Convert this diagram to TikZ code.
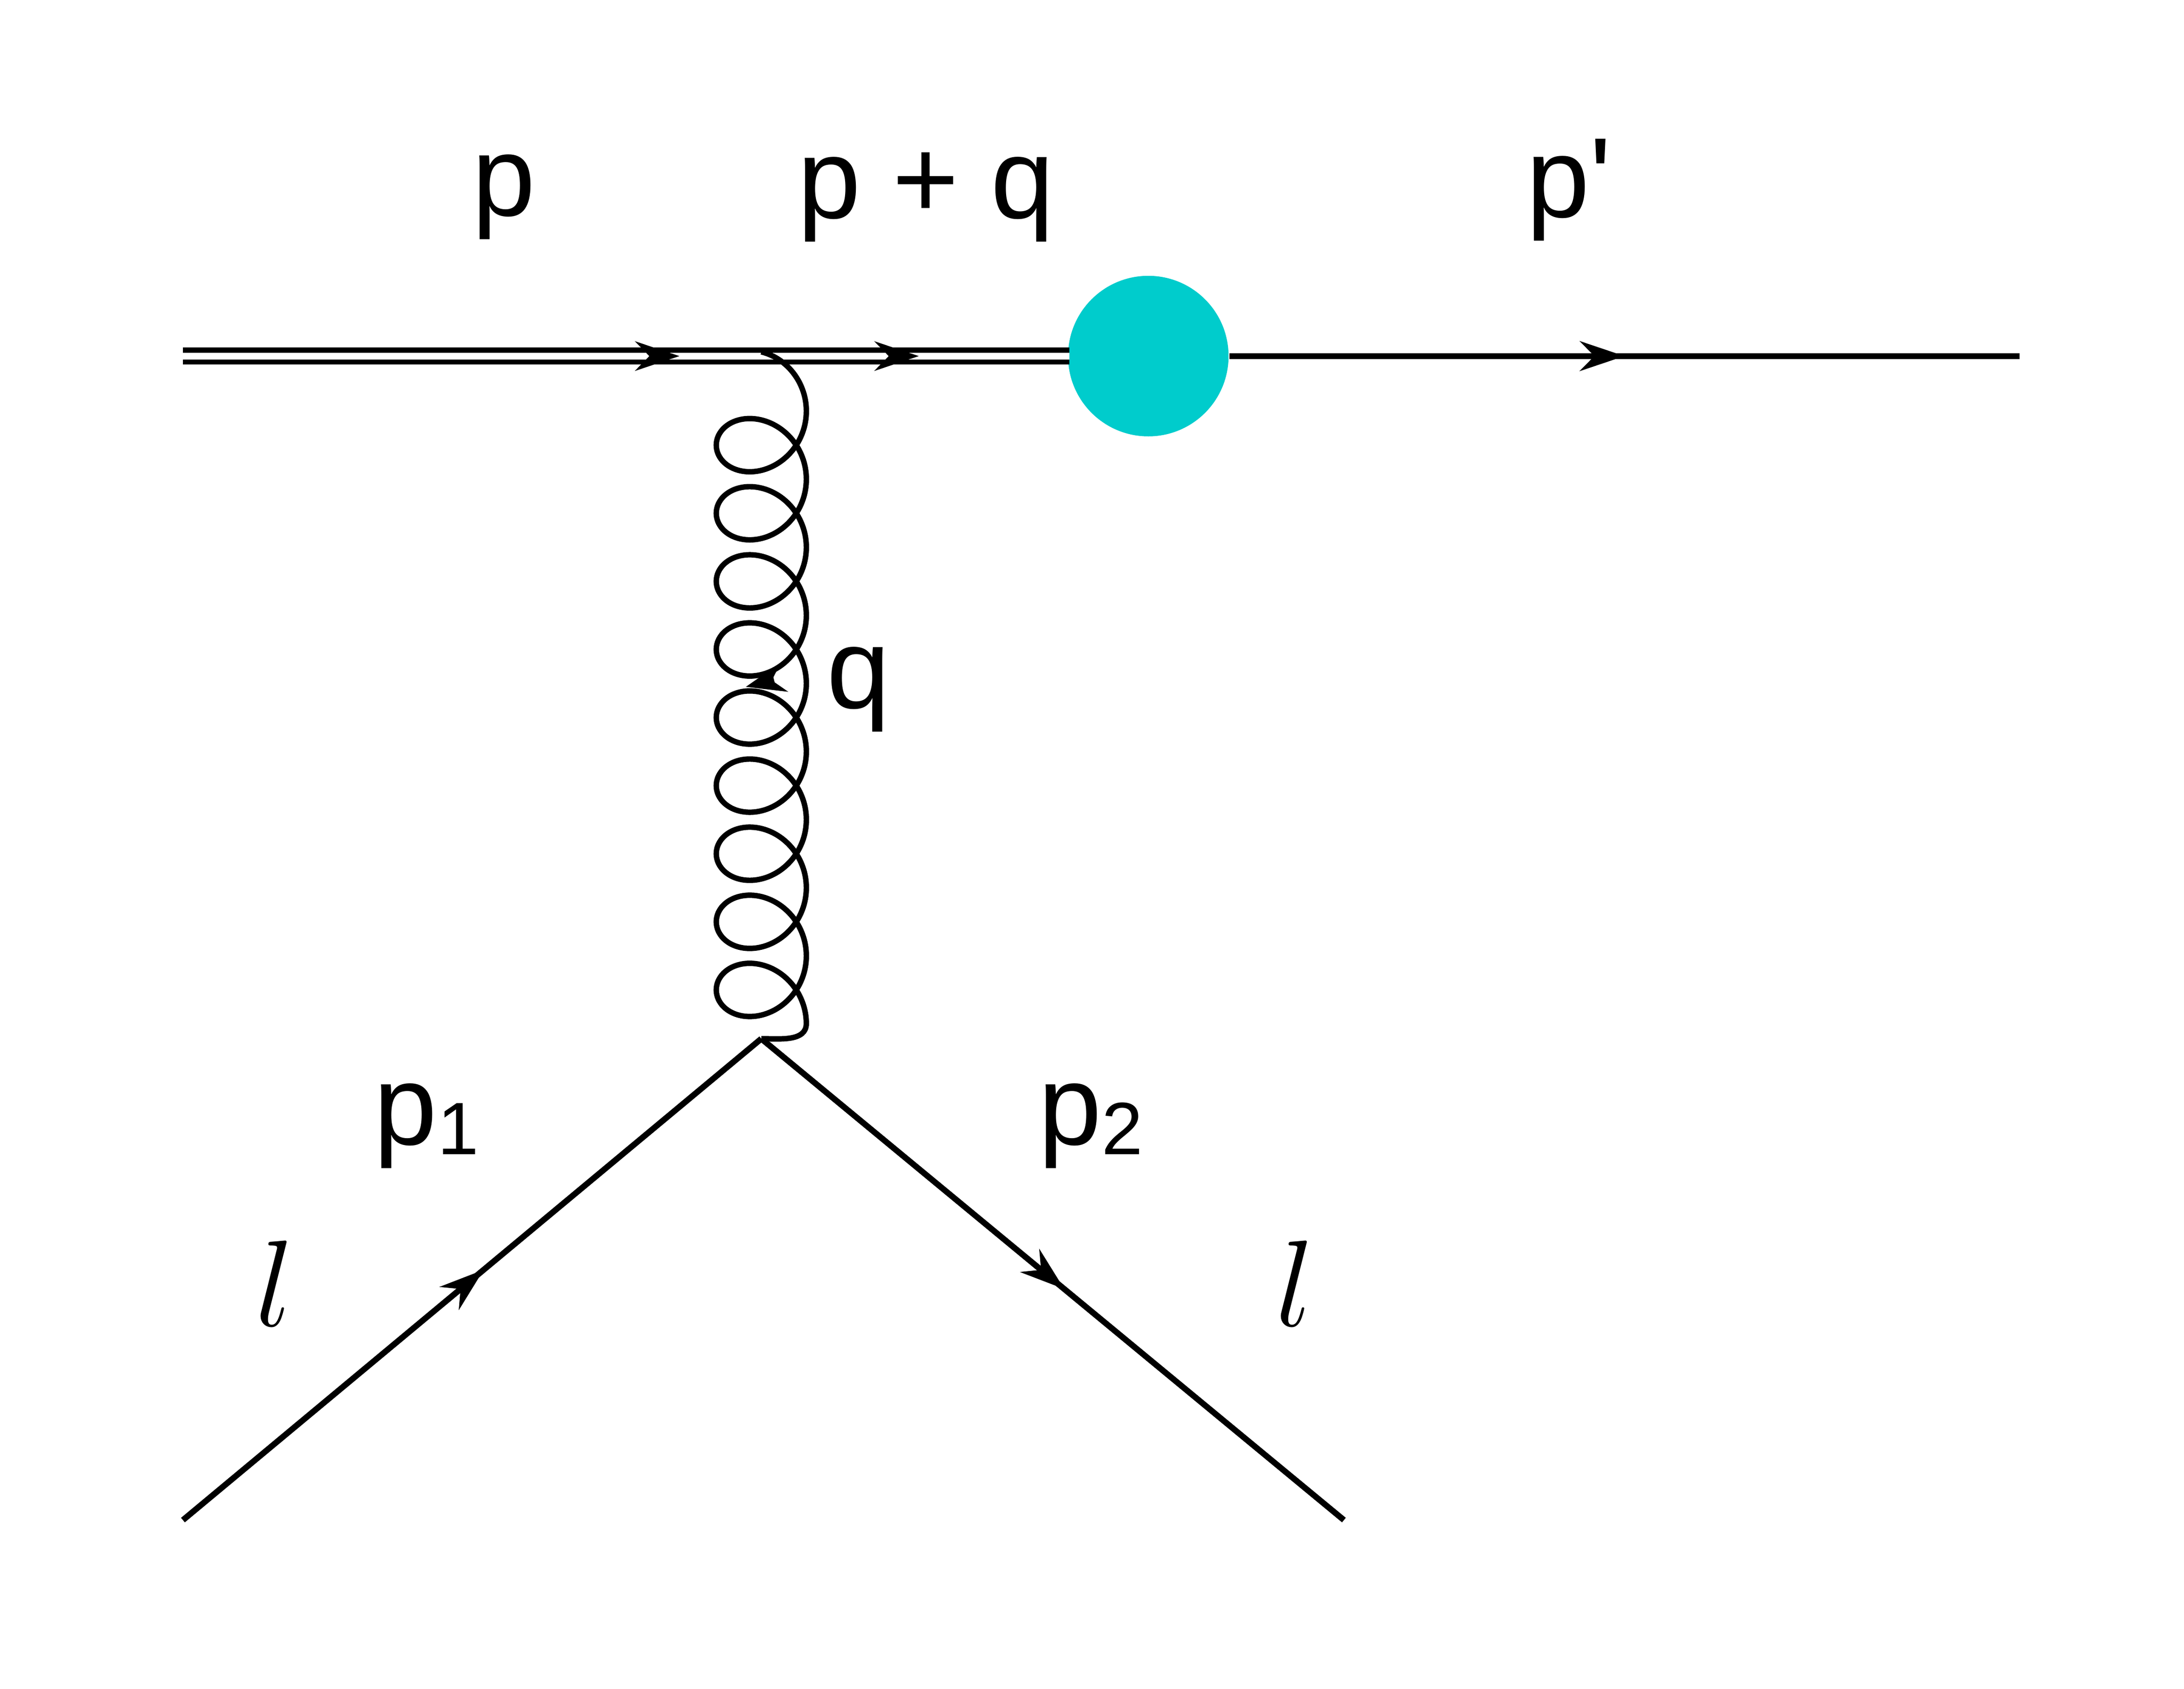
\documentclass[tikz,border=0pt]{standalone}
\usepackage{fontspec}
\setmainfont{Liberation Sans}
\usetikzlibrary{decorations.markings,arrows.meta}
\begin{document}
\begin{tikzpicture}[x=0.01cm,y=-0.01cm,
  line/.style={line width=1.2pt},
  midarrow/.style={postaction={decorate},decoration={markings,mark=at position #1 with {\arrow{Stealth[length=9pt,width=6pt]}}}},
  lbl/.style={font=\fontsize{23}{26}\selectfont, inner sep=0pt}]
\useasboundingbox (0,0) rectangle (1552,1200);
\coordinate (a) at (130,253);
\coordinate (v1) at (541,253);
\coordinate (b) at (760,253);
\node[circle,fill={rgb,255:red,0;green,204;blue,204},minimum size=1.14cm,inner sep=0pt] (blob) at (816,253) {};
\coordinate (c) at (1435,253);
\coordinate (v2) at (541,738);
\coordinate (l1) at (130,1080);
\coordinate (l2) at (955,1080);
\draw[line width=1pt,double distance=1.4pt] (a) -- (b);
\path[midarrow=0.56] (a) -- (b);
\path[midarrow=0.83] (a) -- (b);
\draw[line,midarrow=0.5] (blob.east) -- (c);
\draw[line width=1.1pt] plot[domain=0:18.5*pi, samples=900, variable=\t, smooth] ({541+32*sin(\t r)}, {250+7.7*\t+30-30*cos(\t r)}) to[out=-90,in=0] (v2);
\draw[-{Stealth[length=8pt,width=6pt]},line width=1pt] (550,483) -- (530,488);
\draw[line,midarrow=0.52] (l1) -- (v2);
\draw[line,midarrow=0.52] (v2) -- (l2);
\node[lbl] (tp) at (358,140) {p};
\node[lbl] (tpq) at (658,140) {p + q};
\node[lbl] (tpp) at (1115,135) {p\textquotesingle};
\node[lbl] (tq) at (610,490) {q};
\node[lbl] (tp1) at (303,800) {p\raisebox{-2pt}{\fontsize{15}{15}\selectfont 1}};
\node[lbl] (tp2) at (775,800) {p\raisebox{-2pt}{\fontsize{15}{15}\selectfont 2}};
\node[lbl] (tl1) at (195,912) {$l$};
\node[lbl] (tl2) at (920,912) {$l$};
\end{tikzpicture}
\end{document}
